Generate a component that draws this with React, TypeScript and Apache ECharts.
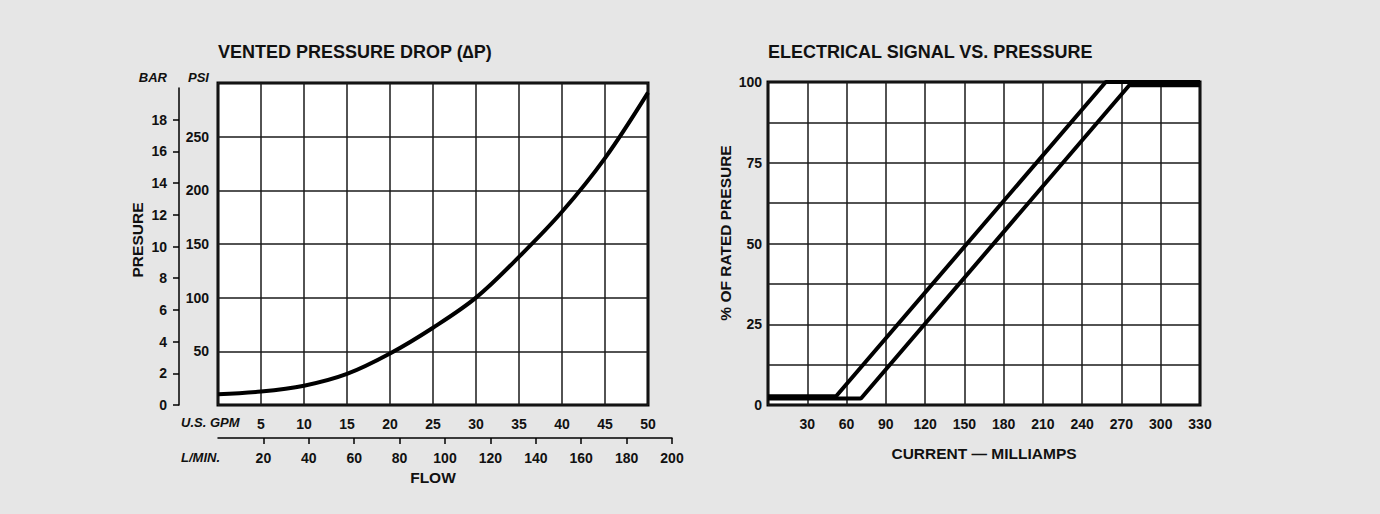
import React, { useEffect, useRef } from "react";
import * as echarts from "echarts";

// ---- Left chart: vented pressure drop ----
const flowGpm = [0, 5, 10, 15, 20, 25, 30, 35, 40, 45, 50];
const pressurePsi = [10, 12.5, 18, 29, 48, 72, 100, 138, 180, 230, 291];
const gpmLabels = [5, 10, 15, 20, 25, 30, 35, 40, 45, 50];
const psiLabels = [50, 100, 150, 200, 250];
const barTicks = [0, 2, 4, 6, 8, 10, 12, 14, 16, 18];
const barMax = 20;
const lminTicks = [20, 40, 60, 80, 100, 120, 140, 160, 180, 200];

// ---- Right chart: electrical signal vs pressure ----
const signalA = [
  [0, 2.7],
  [52, 2.7],
  [258, 100],
  [330, 100],
];
const signalB = [
  [0, 2],
  [71, 2],
  [276, 99],
  [330, 99],
];
const currentLabels = [30, 60, 90, 120, 150, 180, 210, 240, 270, 300, 330];
const percentLabels = [0, 25, 50, 75, 100];

const NARROW = "'Liberation Sans Narrow', 'Arial Narrow', 'Liberation Sans', Arial, sans-serif";
const SANS = "'Liberation Sans', Arial, Helvetica, sans-serif";
const INK = "#111";

const tickLabel = (margin: number, custom: number[]) => ({
  customValues: custom,
  margin,
  color: INK,
  fontFamily: NARROW,
  fontWeight: "bold" as const,
  fontSize: 14,
});

const split = { show: true, lineStyle: { color: "#1a1a1a", width: 1.5 } };

export default function App() {
  const ref = useRef<HTMLDivElement>(null);

  useEffect(() => {
    document.body.style.margin = "0";
    document.body.style.background = "#e6e6e6";
    if (!ref.current) return;
    const chart = echarts.init(ref.current, null, { renderer: "svg" });

    const txt = (
      text: string,
      x: number,
      y: number,
      font: string,
      align: string = "left",
      rotation = 0
    ) => ({
      type: "text",
      x,
      y,
      rotation,
      z: 100,
      style: {
        text,
        fill: INK,
        font,
        align,
        verticalAlign: "middle",
        textAlign: align,
        textVerticalAlign: "middle",
      },
    });

    chart.setOption({
      animation: false,
      backgroundColor: "#e6e6e6",
      textStyle: { fontFamily: SANS },
      grid: [
        { left: 218, top: 83, width: 430, height: 322, show: true, borderColor: "#000", borderWidth: 3, backgroundColor: "#fff" },
        { left: 179, top: 88, width: 1, height: 317 },
        { left: 218, top: 437, width: 454, height: 1 },
        { left: 768, top: 82, width: 432, height: 323, show: true, borderColor: "#000", borderWidth: 3, backgroundColor: "#fff" },
      ],
      xAxis: [
        {
          gridIndex: 0,
          type: "value",
          min: 0,
          max: 50,
          interval: 5,
          axisLine: { show: false },
          axisTick: { show: false },
          splitLine: split,
          axisLabel: tickLabel(12, gpmLabels),
        },
        { gridIndex: 1, type: "value", show: false, min: 0, max: 1 },
        {
          gridIndex: 2,
          type: "value",
          position: "bottom",
          min: 0,
          max: 200,
          interval: 20,
          axisLine: { show: true, lineStyle: { color: "#000", width: 1.5 } },
          axisTick: { show: true, length: 6, customValues: lminTicks, lineStyle: { color: "#000", width: 1.5 } },
          splitLine: { show: false },
          axisLabel: tickLabel(13, lminTicks),
        },
        {
          gridIndex: 3,
          type: "value",
          min: 0,
          max: 330,
          interval: 30,
          axisLine: { show: false },
          axisTick: { show: false },
          splitLine: split,
          axisLabel: tickLabel(12, currentLabels),
          name: "CURRENT — MILLIAMPS",
          nameLocation: "middle",
          nameGap: 40,
          nameTextStyle: { color: INK, fontFamily: SANS, fontWeight: "bold", fontSize: 15.5 },
        },
      ],
      yAxis: [
        {
          gridIndex: 0,
          type: "value",
          min: 0,
          max: 300,
          interval: 50,
          axisLine: { show: false },
          axisTick: { show: false },
          splitLine: split,
          axisLabel: tickLabel(9, psiLabels),
        },
        {
          gridIndex: 1,
          type: "value",
          position: "left",
          min: 0,
          max: barMax,
          interval: 2,
          axisLine: { show: true, lineStyle: { color: "#000", width: 1.5 } },
          axisTick: { show: true, length: 6, customValues: barTicks, lineStyle: { color: "#000", width: 1.5 } },
          splitLine: { show: false },
          axisLabel: tickLabel(12, barTicks),
        },
        { gridIndex: 2, type: "value", show: false, min: 0, max: 1 },
        {
          gridIndex: 3,
          type: "value",
          min: 0,
          max: 100,
          interval: 12.5,
          axisLine: { show: false },
          axisTick: { show: false },
          splitLine: split,
          axisLabel: tickLabel(6, percentLabels),
        },
      ],
      series: [
        {
          type: "line",
          xAxisIndex: 0,
          yAxisIndex: 0,
          data: flowGpm.map((g, i) => [g, pressurePsi[i]]),
          smooth: 0.35,
          symbol: "none",
          lineStyle: { color: "#000", width: 4 },
          z: 5,
        },
        {
          type: "line",
          xAxisIndex: 3,
          yAxisIndex: 3,
          data: signalA,
          symbol: "none",
          clip: false,
          lineStyle: { color: "#000", width: 4 },
          z: 5,
        },
        {
          type: "line",
          xAxisIndex: 3,
          yAxisIndex: 3,
          data: signalB,
          symbol: "none",
          clip: false,
          lineStyle: { color: "#000", width: 4 },
          z: 5,
        },
      ],
      graphic: [
        txt("VENTED PRESSURE DROP (∆P)", 218, 52, `bold 18px ${SANS}`),
        txt("ELECTRICAL SIGNAL VS. PRESSURE", 768, 52, `bold 18px ${SANS}`),
        txt("BAR", 167, 77, `italic bold 13px ${SANS}`, "right"),
        txt("PSI", 209, 77, `italic bold 13px ${SANS}`, "right"),
        txt("U.S. GPM", 181, 422, `italic bold 13px ${SANS}`),
        txt("L/MIN.", 181, 457, `italic bold 13px ${SANS}`),
        txt("FLOW", 433, 477, `bold 15.5px ${SANS}`, "center"),
        txt("PRESURE", 137, 240, `bold 15.5px ${SANS}`, "center", Math.PI / 2),
        txt("% OF RATED PRESURE", 725, 233, `bold 15.5px ${SANS}`, "center", Math.PI / 2),
      ],
    });

    return () => chart.dispose();
  }, []);

  return <div ref={ref} style={{ width: 1380, height: 514, background: "#e6e6e6" }} />;
}
